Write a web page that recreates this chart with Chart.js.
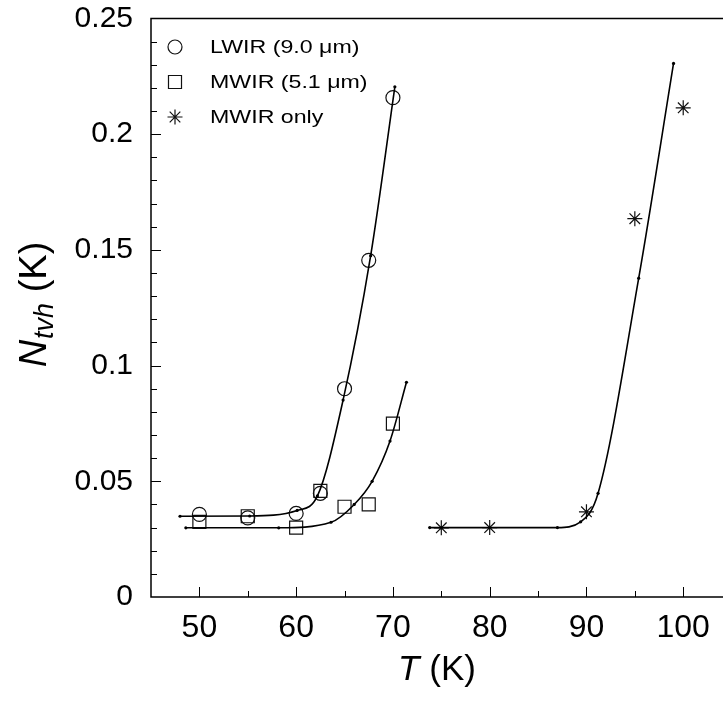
<!DOCTYPE html>
<html lang="en">
<head>
<meta charset="UTF-8">
<title>Ntvh vs T</title>
<script src="https://cdn.jsdelivr.net/npm/chart.js"></script>
<style>
  html,body{margin:0;padding:0;background:#fff;overflow:hidden;}
  canvas{display:block;}
</style>
</head>
<body>
<canvas id="chart" width="742" height="708"></canvas>
<script>
// measured points
const lwirT = [50, 55, 60, 62.5, 65, 67.5, 70];
const lwirN = [0.0357, 0.0342, 0.0361, 0.0448, 0.090, 0.1455, 0.2158];
const mwirT = [50, 55, 60, 62.5, 65, 67.5, 70];
const mwirN = [0.0325, 0.0349, 0.0300, 0.0459, 0.0390, 0.0400, 0.0749];
const onlyT = [75, 80, 90, 95, 100];
const onlyN = [0.0299, 0.0300, 0.0368, 0.1635, 0.2114];

// fitted curves (nodes shown as small dots)
const lwirFitT = [48.0, 55.2, 60.1, 62.2, 64.85, 67.7, 70.2];
const lwirFitN = [0.0349, 0.0350, 0.0374, 0.0437, 0.0851, 0.1475, 0.2205];
const mwirFitT = [48.6, 58.2, 63.6, 66.0, 67.85, 69.7, 71.4];
const mwirFitN = [0.0299, 0.0299, 0.0323, 0.0400, 0.0500, 0.0674, 0.0928];
const onlyFitT = [73.8, 87.0, 89.4, 91.2, 95.4, 99.0];
const onlyFitN = [0.0300, 0.0300, 0.0325, 0.0448, 0.1378, 0.2306];

// axes
const xTicks = [50, 60, 70, 80, 90, 100];
const xMinor = [55, 65, 75, 85, 95];
const yTicks = [0, 0.05, 0.1, 0.15, 0.2, 0.25];
const yTickLabels = ['0', '0.05', '0.1', '0.15', '0.2', '0.25'];
const legendLabels = ['LWIR (9.0 \u03bcm)', 'MWIR (5.1 \u03bcm)', 'MWIR only'];

const FONT = "'Liberation Sans', Arial, sans-serif";
const pts = (xs, ys) => xs.map((v, i) => ({x: v, y: ys[i]}));

function curve(xs, ys) {
  return {
    data: pts(xs, ys), showLine: true, borderColor: '#000', borderWidth: 1.6,
    cubicInterpolationMode: 'monotone', pointRadius: 1.6, pointStyle: 'circle',
    pointBackgroundColor: '#000', pointBorderWidth: 0
  };
}
function marks(xs, ys, style, r) {
  return {
    data: pts(xs, ys), showLine: false, pointStyle: style, pointRadius: r,
    pointBorderColor: '#111', pointBackgroundColor: 'rgba(0,0,0,0)', pointBorderWidth: 1.2
  };
}

const markStyles = [['circle', 7], ['rect', 9.2], ['star', 7.5]];

const framePlugin = {
  id: 'frame',
  afterDraw(chart) {
    const {ctx, chartArea: a, scales: {x, y}} = chart;
    ctx.save();
    ctx.strokeStyle = '#000';
    ctx.lineWidth = 1.5;
    ctx.beginPath();
    ctx.moveTo(a.right, a.top); ctx.lineTo(a.left, a.top);
    ctx.lineTo(a.left, a.bottom); ctx.lineTo(a.right, a.bottom);
    ctx.stroke();

    // inward ticks
    ctx.lineWidth = 1;
    ctx.beginPath();
    xTicks.forEach(v => { const p = Math.round(x.getPixelForValue(v)) + 0.5; ctx.moveTo(p, a.bottom); ctx.lineTo(p, a.bottom - 10); });
    xMinor.forEach(v => { const p = Math.round(x.getPixelForValue(v)) + 0.5; ctx.moveTo(p, a.bottom); ctx.lineTo(p, a.bottom - 6); });
    for (let i = 1; i < 25; i++) {
      const p = Math.round(y.getPixelForValue(i / 100)) + 0.5;
      ctx.moveTo(a.left, p); ctx.lineTo(a.left + (i % 5 === 0 ? 10 : 6), p);
    }
    ctx.stroke();

    // x title
    ctx.fillStyle = '#000';
    ctx.textBaseline = 'alphabetic';
    const f1 = 'italic 35px ' + FONT, f2 = '35px ' + FONT;
    ctx.font = f1; const wT = ctx.measureText('T').width;
    ctx.font = f2; const wK = ctx.measureText(' (K)').width;
    let sx = 437 - (wT + wK) / 2;
    ctx.font = f1; ctx.fillText('T', sx, 680);
    ctx.font = f2; ctx.fillText(' (K)', sx + wT, 680);

    // y title (rotated)
    ctx.save();
    ctx.translate(46, 305);
    ctx.rotate(-Math.PI / 2);
    const g1 = 'italic 38px ' + FONT, g2 = '38px ' + FONT, gs = 'italic 27px ' + FONT;
    ctx.font = g1; const wN = ctx.measureText('N').width;
    ctx.font = gs; const wS = ctx.measureText('tvh').width;
    ctx.font = g2; const wK2 = ctx.measureText(' (K)').width;
    let s = -(wN + wS + wK2) / 2;
    ctx.font = g1; ctx.fillText('N', s, 0);
    ctx.font = gs; ctx.fillText('tvh', s + wN + 1, 7);
    ctx.font = g2; ctx.fillText(' (K)', s + wN + wS + 1, 0);
    ctx.restore();

    // legend
    ctx.font = '19px ' + FONT;
    ctx.textBaseline = 'middle';
    legendLabels.forEach((lab, i) => {
      const ly = 47 + i * 35;
      ctx.strokeStyle = '#111'; ctx.fillStyle = 'rgba(0,0,0,0)'; ctx.lineWidth = 1.2;
      Chart.helpers.drawPoint(ctx, {pointStyle: markStyles[i][0], radius: markStyles[i][1], rotation: 0, borderWidth: 1.2}, 175, ly);
      ctx.fillStyle = '#000';
      ctx.save();
      ctx.translate(210, ly + 1);
      ctx.scale(1.22, 1);
      ctx.fillText(lab, 0, 0);
      ctx.restore();
    });
    ctx.restore();
  }
};

new Chart(document.getElementById('chart'), {
  type: 'scatter',
  data: {
    datasets: [
      curve(lwirFitT, lwirFitN),
      curve(mwirFitT, mwirFitN),
      curve(onlyFitT, onlyFitN),
      marks(lwirT, lwirN, 'circle', 7),
      marks(mwirT, mwirN, 'rect', 9.2),
      marks(onlyT, onlyN, 'star', 7.5)
    ]
  },
  options: {
    responsive: false,
    animation: false,
    layout: {padding: {top: 18.5, right: 0, left: 0, bottom: 0}},
    plugins: {legend: {display: false}, tooltip: {enabled: false}},
    scales: {
      x: {
        type: 'linear', min: 45, max: 105,
        afterBuildTicks: s => { s.ticks = xTicks.map(v => ({value: v})); },
        afterFit: s => { s.height = 111; s.paddingLeft = 0; s.paddingRight = 0; },
        grid: {display: false, drawTicks: false}, border: {display: false},
        ticks: {color: '#000', font: {family: FONT, size: 32}, padding: 12, maxRotation: 0}
      },
      y: {
        type: 'linear', min: 0, max: 0.25,
        afterBuildTicks: s => { s.ticks = yTicks.map(v => ({value: v})); },
        afterFit: s => { s.width = 151; s.paddingTop = 0; s.paddingBottom = 0; },
        grid: {display: false, drawTicks: false}, border: {display: false},
        ticks: {color: '#000', font: {family: FONT, size: 30}, padding: 18,
                callback: (v, i) => yTickLabels[i]}
      }
    }
  },
  plugins: [framePlugin]
});
</script>
</body>
</html>
